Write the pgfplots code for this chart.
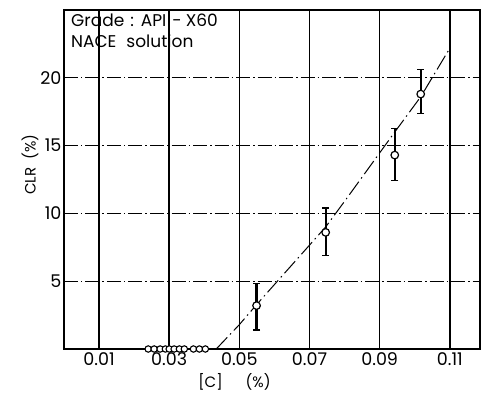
\documentclass[border=0pt]{standalone}
\usepackage{pgfplots}
\pgfplotsset{compat=1.18}
\usepackage{fontspec}
\setmainfont{Poppins}
\begin{document}
\begin{tikzpicture}
\path (-64pt,-45pt) rectangle (418pt,349pt);
\begin{axis}[
  at={(0pt,0pt)}, anchor=south west,
  scale only axis, width=416pt, height=339pt,
  xmin=0, xmax=0.1186, ymin=0, ymax=25,
  xtick={0.01,0.03,0.05,0.07,0.09,0.11},
  xticklabels={0.01,0.03,0.05,0.07,0.09,0.11},
  ytick={5,10,15,20},
  yticklabels={5,10,15,20},
  grid=major,
  major x grid style={black, line width=1.6pt},
  major y grid style={black, line width=0.9pt, dash pattern=on 14pt off 3pt on 1.5pt off 3pt},
  axis line style={line width=1.9pt},
  major tick length=0pt,
  tick label style={font=\fontsize{17.5}{20}\selectfont},
  xticklabel style={yshift=0pt},
  yticklabel style={xshift=1pt},
  /pgf/number format/assume math mode=true,
  clip=false,
]
\addplot[black, line width=1pt, dash pattern=on 16pt off 4pt on 1.5pt off 4pt] coordinates {
 (0.0434,0) (0.05,1.8) (0.055,3.3) (0.0746,9.0) (0.0803,11.0) (0.0943,16.0) (0.1017,18.6) (0.1098,22.1)};
\addplot[black, only marks, mark=*, mark size=3.8pt, mark options={fill=white, draw=black, line width=1.2pt},
  error bars/.cd, y dir=both, y explicit,
  error bar style={line width=2.2pt},
  error mark options={rotate=90, mark size=3.5pt, line width=1.2pt}]
 coordinates {
 (0.0549,3.2) += (0,1.65) -= (0,1.8)
 (0.0746,8.6) += (0,1.8) -= (0,1.7)
 (0.0943,14.3) += (0,1.95) -= (0,1.9)
 (0.1017,18.8) += (0,1.8) -= (0,1.45)
 };
\addplot[black, only marks, mark=*, mark size=3.2pt, mark options={fill=white, draw=black, line width=1.1pt}]
 coordinates {
 (0.0240,0) (0.0257,0) (0.0274,0) (0.0289,0) (0.0300,0) (0.0314,0) (0.0329,0) (0.0343,0)
 (0.0369,0) (0.0386,0) (0.0403,0)
 };
\node[anchor=north west, font=\fontsize{17}{21}\selectfont, align=left, inner sep=0pt] at (axis cs:0.002,24.75) {Grade\hspace{6pt}:\hspace{7pt}API\hspace{6pt}-\hspace{4pt}X60\\NACE\hspace{10pt}solution};
\node[font=\fontsize{15}{18}\selectfont, rotate=90] at (axis cs:-0.0097,13.6) {CLR\ \ (\%)};
\node[font=\fontsize{15}{18}\selectfont] at (axis cs:0.0486,-2.45) {[C]\quad\ \ (\%)};
\end{axis}
\end{tikzpicture}
\end{document}
